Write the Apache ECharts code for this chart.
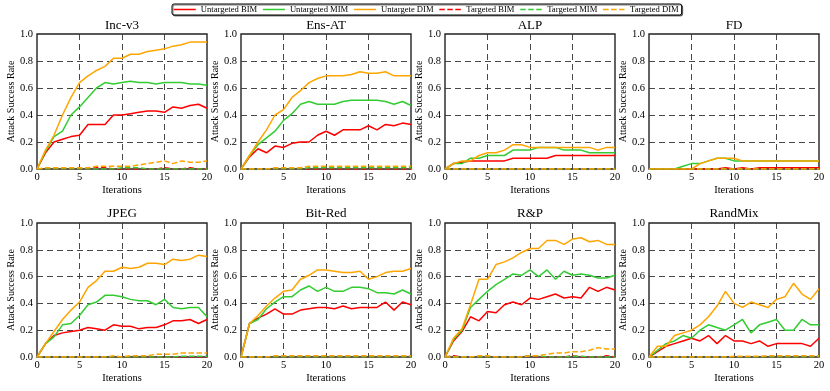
<!DOCTYPE html>
<html><head><meta charset="utf-8">
<script src="https://cdn.jsdelivr.net/npm/echarts@6/dist/echarts.min.js"></script>
<style>html,body{margin:0;padding:0;background:#fff}#c{width:830px;height:391px}</style>
</head><body><div id="c"></div>
<script>
const iterations = [0,1,2,3,4,5,6,7,8,9,10,11,12,13,14,15,16,17,18,19,20];
const panelTitles = ['Inc-v3','Ens-AT','ALP','FD','JPEG','Bit-Red','R&P','RandMix'];
const seriesNames = ['Untargeted BIM','Untargeted MIM','Untargete DIM','Targeted BIM','Targeted MIM','Targeted DIM'];
const yTickValues = [0.0,0.2,0.4,0.6,0.8,1.0];
const xTickValues = [0,5,10,15,20];

// Inc-v3
const incv3_ubim = [0,0.12,0.20,0.22,0.24,0.25,0.33,0.33,0.33,0.40,0.40,0.41,0.42,0.43,0.43,0.42,0.46,0.45,0.47,0.48,0.45];
const incv3_umim = [0,0.13,0.24,0.28,0.40,0.46,0.53,0.60,0.64,0.63,0.64,0.65,0.64,0.64,0.63,0.64,0.64,0.64,0.63,0.63,0.62];
const incv3_udim = [0,0.14,0.25,0.40,0.53,0.64,0.69,0.73,0.76,0.82,0.82,0.85,0.85,0.87,0.88,0.89,0.91,0.92,0.94,0.94,0.94];
const incv3_tbim = [0,0,0,0,0,0,0,0.01,0.01,0,0,0,0,0,0,0.01,0,0,0.01,0,0];
const incv3_tmim = [0,0,0,0,0,0,0,0,0,0,0.01,0.01,0.01,0,0,0,0,0,0,0,0];
const incv3_tdim = [0,0.01,0.01,0.01,0.01,0.01,0.01,0.02,0.02,0.02,0.02,0.02,0.03,0.04,0.05,0.06,0.04,0.06,0.05,0.05,0.06];
// Ens-AT
const ensat_ubim = [0,0.09,0.15,0.12,0.17,0.16,0.19,0.20,0.20,0.25,0.28,0.25,0.29,0.29,0.29,0.32,0.29,0.33,0.32,0.34,0.33];
const ensat_umim = [0,0.10,0.18,0.23,0.28,0.36,0.41,0.48,0.50,0.48,0.48,0.48,0.50,0.51,0.51,0.51,0.51,0.50,0.48,0.50,0.47];
const ensat_udim = [0,0.10,0.20,0.29,0.40,0.44,0.53,0.58,0.64,0.67,0.69,0.69,0.69,0.70,0.72,0.71,0.71,0.72,0.69,0.69,0.69];
const ensat_tbim = [0,0,0,0,0,0,0,0,0,0,0,0,0,0,0,0,0,0,0,0,0];
const ensat_tmim = [0,0,0,0,0,0,0,0,0.01,0.01,0.01,0.01,0.01,0.01,0.01,0.01,0.01,0.01,0.01,0.01,0.01];
const ensat_tdim = [0,0,0,0,0.01,0.01,0.01,0.01,0.02,0.02,0.02,0.02,0.02,0.02,0.02,0.02,0.02,0.02,0.02,0.02,0.02];
// ALP
const alp_ubim = [0,0.04,0.05,0.06,0.06,0.06,0.06,0.06,0.08,0.08,0.08,0.08,0.08,0.10,0.10,0.10,0.10,0.10,0.10,0.10,0.10];
const alp_umim = [0,0.04,0.04,0.08,0.08,0.10,0.10,0.10,0.14,0.14,0.14,0.16,0.16,0.16,0.14,0.14,0.14,0.12,0.12,0.12,0.12];
const alp_udim = [0,0.04,0.06,0.06,0.10,0.12,0.12,0.14,0.18,0.18,0.16,0.16,0.16,0.16,0.16,0.16,0.16,0.16,0.14,0.16,0.16];
const alp_tbim = [0,0,0,0,0,0,0,0,0,0,0,0,0,0,0,0,0,0,0,0,0];
const alp_tmim = [0,0,0,0,0,0,0,0,0,0,0,0,0,0,0,0,0,0,0,0,0];
const alp_tdim = [0,0,0,0,0,0,0,0,0,0,0,0,0,0,0,0,0,0,0,0,0];
// FD
const fd_ubim = [0,0,0,0,0,0,0,0,0,0.01,0,0.01,0,0.01,0.01,0.01,0.01,0.01,0.01,0.01,0.01];
const fd_umim = [0,0,0,0,0.02,0.04,0.04,0.06,0.08,0.08,0.06,0.06,0.06,0.06,0.06,0.06,0.06,0.06,0.06,0.06,0.06];
const fd_udim = [0,0,0,0,0,0,0.04,0.06,0.08,0.08,0.08,0.06,0.06,0.06,0.06,0.06,0.06,0.06,0.06,0.06,0.06];
const fd_tbim = [0,0,0,0,0,0,0,0,0,0,0,0,0,0,0,0,0,0,0,0,0];
const fd_tmim = [0,0,0,0,0,0,0,0,0,0,0,0,0,0,0,0,0,0,0,0,0];
const fd_tdim = [0,0,0,0,0,0,0,0,0,0,0,0,0,0,0,0,0,0,0,0,0];
// JPEG
const jpeg_ubim = [0,0.10,0.16,0.18,0.19,0.20,0.22,0.21,0.20,0.24,0.23,0.23,0.21,0.22,0.22,0.24,0.27,0.27,0.28,0.25,0.28];
const jpeg_umim = [0,0.10,0.15,0.24,0.25,0.31,0.39,0.41,0.46,0.46,0.45,0.43,0.42,0.42,0.39,0.43,0.37,0.36,0.37,0.37,0.30];
const jpeg_udim = [0,0.10,0.19,0.28,0.35,0.41,0.52,0.57,0.64,0.64,0.67,0.66,0.67,0.70,0.70,0.69,0.73,0.72,0.73,0.76,0.75];
const jpeg_tbim = [0,0,0,0,0,0,0,0,0,0,0,0,0,0,0,0,0,0,0,0,0];
const jpeg_tmim = [0,0,0,0,0,0,0,0,0,0,0,0,0,0,0,0,0,0.005,0.005,0.005,0.005];
const jpeg_tdim = [0,0,0,0,0,0,0,0,0,0.01,0,0.01,0.01,0.01,0.02,0.02,0.02,0.03,0.03,0.03,0.03];
// Bit-Red
const bitred_ubim = [0,0.25,0.29,0.32,0.36,0.32,0.32,0.35,0.36,0.37,0.37,0.36,0.38,0.36,0.37,0.37,0.37,0.41,0.35,0.41,0.39];
const bitred_umim = [0,0.25,0.28,0.36,0.41,0.45,0.45,0.50,0.53,0.49,0.52,0.49,0.49,0.52,0.52,0.51,0.48,0.48,0.47,0.50,0.47];
const bitred_udim = [0,0.25,0.31,0.38,0.44,0.49,0.50,0.58,0.61,0.65,0.65,0.64,0.63,0.63,0.64,0.58,0.60,0.63,0.64,0.64,0.66];
const bitred_tbim = [0,0,0,0,0,0,0,0,0,0,0,0,0,0,0,0,0,0,0,0,0];
const bitred_tmim = [0,0,0,0,0,0,0,0,0,0,0,0,0,0,0,0,0,0,0,0,0];
const bitred_tdim = [0,0,0,0,0.01,0.01,0.01,0.01,0.01,0.01,0.01,0.01,0.01,0.01,0.01,0.01,0.01,0.01,0.01,0.01,0.01];
// R&P
const rp_ubim = [0,0.12,0.19,0.30,0.27,0.34,0.33,0.39,0.41,0.39,0.44,0.43,0.45,0.47,0.44,0.45,0.44,0.52,0.49,0.52,0.50];
const rp_umim = [0,0.13,0.20,0.37,0.43,0.49,0.54,0.58,0.62,0.61,0.65,0.60,0.65,0.58,0.64,0.61,0.62,0.61,0.59,0.59,0.61];
const rp_udim = [0,0.14,0.21,0.39,0.58,0.58,0.69,0.71,0.74,0.78,0.81,0.81,0.87,0.87,0.84,0.88,0.89,0.86,0.87,0.84,0.84];
const rp_tbim = [0,0.01,0,0,0,0,0,0,0,0,0.01,0,0,0,0,0.01,0,0,0,0.01,0];
const rp_tmim = [0,0,0,0,0,0,0,0,0,0,0.01,0.01,0,0,0,0.005,0.005,0,0,0,0];
const rp_tdim = [0,0,0,0,0.01,0.01,0,0,0,0,0.01,0.01,0.02,0.03,0.03,0.04,0.04,0.05,0.07,0.06,0.06];
// RandMix
const randmix_ubim = [0,0.04,0.08,0.10,0.12,0.14,0.12,0.16,0.10,0.16,0.12,0.12,0.10,0.12,0.08,0.10,0.10,0.10,0.10,0.08,0.14];
const randmix_umim = [0,0.05,0.10,0.12,0.16,0.14,0.20,0.24,0.22,0.20,0.24,0.28,0.18,0.24,0.26,0.28,0.20,0.20,0.28,0.24,0.24];
const randmix_udim = [0,0.08,0.08,0.16,0.18,0.20,0.24,0.30,0.38,0.49,0.40,0.37,0.41,0.39,0.37,0.43,0.45,0.55,0.47,0.43,0.51];
const randmix_tbim = [0,0,0,0,0,0,0,0,0,0,0,0,0,0,0,0,0,0,0,0,0];
const randmix_tmim = [0,0,0,0,0,0,0,0,0,0,0,0,0,0,0,0,0,0,0,0,0];
const randmix_tdim = [0,0,0,0,0,0,0,0,0,0,0.005,0.005,0.005,0.005,0.01,0.01,0.01,0.01,0.01,0.01,0.01];

const panelData = [
  [incv3_ubim, incv3_umim, incv3_udim, incv3_tbim, incv3_tmim, incv3_tdim],
  [ensat_ubim, ensat_umim, ensat_udim, ensat_tbim, ensat_tmim, ensat_tdim],
  [alp_ubim, alp_umim, alp_udim, alp_tbim, alp_tmim, alp_tdim],
  [fd_ubim, fd_umim, fd_udim, fd_tbim, fd_tmim, fd_tdim],
  [jpeg_ubim, jpeg_umim, jpeg_udim, jpeg_tbim, jpeg_tmim, jpeg_tdim],
  [bitred_ubim, bitred_umim, bitred_udim, bitred_tbim, bitred_tmim, bitred_tdim],
  [rp_ubim, rp_umim, rp_udim, rp_tbim, rp_tmim, rp_tdim],
  [randmix_ubim, randmix_umim, randmix_udim, randmix_tbim, randmix_tmim, randmix_tdim]
];

const FONT = "'Liberation Serif', 'DejaVu Serif', serif";
const colors = ['#ff0000', '#33cc33', '#ffa500', '#ff0000', '#33cc33', '#ffa500'];
const lineTypes = ['solid','solid','solid',[5.5,2.5],[5.5,2.5],[5.5,2.5]];
const colLefts = [37, 241, 445, 649];
const rowTops = [34, 223];
const gridW = 170, gridHs = [135, 134];

const grids = [], xAxes = [], yAxes = [], titles = [], series = [];
for (let p = 0; p < 8; p++) {
  const r = Math.floor(p / 4), c = p % 4;
  grids.push({ left: colLefts[c], top: rowTops[r], width: gridW, height: gridHs[r],
    show: true, borderColor: '#222', borderWidth: 1.4, backgroundColor: 'transparent' });
  titles.push({ text: panelTitles[p], left: colLefts[c] + gridW / 2, top: r === 0 ? 19 : 207,
    textAlign: 'center', padding: 0,
    textStyle: { fontFamily: FONT, fontSize: 13, fontWeight: 'normal', color: '#000' } });
  xAxes.push({ type: 'value', gridIndex: p, min: xTickValues[0], max: xTickValues[xTickValues.length-1], interval: 5,
    name: 'Iterations', nameLocation: 'middle', nameGap: 16,
    nameTextStyle: { fontFamily: FONT, fontSize: 10.5, color: '#000' },
    axisLine: { show: false }, axisTick: { show: false },
    axisLabel: { fontFamily: FONT, fontSize: 10.5, color: '#000', margin: 3 },
    splitLine: { show: true, showMinLine: false, showMaxLine: false, lineStyle: { color: '#333', type: [6, 4], width: 0.9 } } });
  yAxes.push({ type: 'value', gridIndex: p, min: yTickValues[0], max: yTickValues[yTickValues.length-1], interval: 0.2,
    name: 'Attack Success Rate', nameLocation: 'middle', nameGap: 21,
    nameTextStyle: { fontFamily: FONT, fontSize: 10, color: '#000' },
    axisLine: { show: false }, axisTick: { show: false },
    axisLabel: { fontFamily: FONT, fontSize: 10.5, color: '#000', margin: 4, formatter: v => v.toFixed(1) },
    splitLine: { show: true, showMinLine: false, showMaxLine: false, lineStyle: { color: '#333', type: [6, 4], width: 0.9 } } });
  for (let s = 0; s < 6; s++) {
    series.push({ type: 'line', name: seriesNames[s], xAxisIndex: p, yAxisIndex: p,
      data: iterations.map((x, i) => [x, panelData[p][s][i]]),
      showSymbol: false, symbol: 'none', animation: false, clip: true,
      color: colors[s],
      lineStyle: { color: colors[s], width: 1.5, type: lineTypes[s] } });
  }
}

const chart = echarts.init(document.getElementById('c'), null, { renderer: 'canvas' });
chart.setOption({
  animation: false,
  backgroundColor: '#fff',
  title: titles,
  legend: { data: seriesNames, left: 172, top: 4, padding: [1, 3, 1, 1], itemGap: 5, itemWidth: 22, itemHeight: 10,
    borderColor: '#000', borderWidth: 1, borderRadius: 2,
    shadowColor: 'rgba(0,0,0,0.5)', shadowOffsetX: 1, shadowOffsetY: 1, shadowBlur: 0, backgroundColor: '#fff',
    itemStyle: { color: 'rgba(0,0,0,0)', borderColor: 'rgba(0,0,0,0)', borderWidth: 0, opacity: 0 },
    lineStyle: { width: 1.5 },
    textStyle: { fontFamily: FONT, fontSize: 8.6, color: '#000' } },
  grid: grids, xAxis: xAxes, yAxis: yAxes, series: series
});
</script>
</body></html>
